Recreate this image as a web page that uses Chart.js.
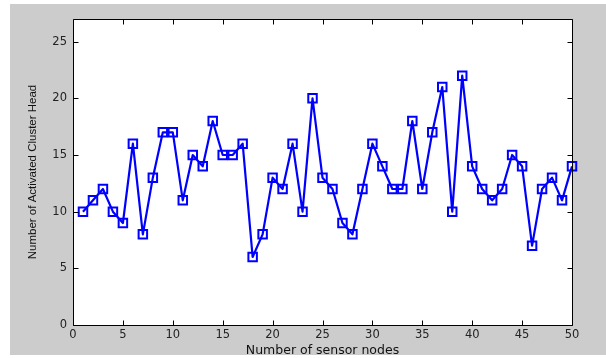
<!DOCTYPE html>
<html><head><meta charset="utf-8">
<script src="https://cdn.jsdelivr.net/npm/chart.js@4/dist/chart.umd.min.js"></script>
<style>html,body{margin:0;padding:0;background:#fff;} #wrap{position:relative;width:606px;height:358px;}</style>
</head><body><div id="wrap"><canvas id="c" width="606" height="358"></canvas></div>
<script>
const nodes = [1,2,3,4,5,6,7,8,9,10,11,12,13,14,15,16,17,18,19,20,21,22,23,24,25,26,27,28,29,30,31,32,33,34,35,36,37,38,39,40,41,42,43,44,45,46,47,48,49,50];
const activatedHeads = [10,11,12,10,9,16,8,13,17,17,11,15,14,18,15,15,16,6,8,13,12,16,10,20,13,12,9,8,12,16,14,12,12,18,12,17,21,10,22,14,12,11,12,15,14,7,12,13,11,14];
const xTicks = [0,5,10,15,20,25,30,35,40,45,50];
const yTicks = [0,5,10,15,20,25];
const xRange = [0,50];
const yRange = [0,27];
const xTitle = 'Number of sensor nodes';
const yTitle = 'Number of Activated Cluster Head';

const tickFont = {family:'DejaVu Sans', size:11.5};
const frame = {
  id:'frame',
  beforeDraw(chart){
    const {ctx, chartArea:a, width, height} = chart;
    ctx.save();
    ctx.fillStyle='#fff'; ctx.fillRect(0,0,width,height);
    ctx.fillStyle='#cccccc'; ctx.fillRect(10,4,width-10,351);
    ctx.fillStyle='#fff'; ctx.fillRect(a.left,a.top,a.right-a.left,a.bottom-a.top);
    ctx.restore();
  },
  afterDraw(chart){
    const {ctx, chartArea:a, scales} = chart;
    ctx.save();
    ctx.strokeStyle='#000'; ctx.lineWidth=1;
    const L=Math.round(a.left)+0.5, R=Math.round(a.right)+0.5, T=Math.round(a.top)+0.5, B=Math.round(a.bottom)+0.5;
    ctx.beginPath();
    ctx.rect(L,T,R-L,B-T);
    const len=5;
    xTicks.forEach(v=>{
      const x=Math.round(scales.x.getPixelForValue(v))+0.5;
      ctx.moveTo(x,B); ctx.lineTo(x,B-len);
      ctx.moveTo(x,T); ctx.lineTo(x,T+len);
    });
    yTicks.forEach(v=>{
      const y=Math.round(scales.y.getPixelForValue(v))+0.5;
      ctx.moveTo(L,y); ctx.lineTo(L+len,y);
      ctx.moveTo(R,y); ctx.lineTo(R-len,y);
    });
    ctx.stroke();
    ctx.restore();
  }
};

new Chart(document.getElementById('c'), {
  type:'line',
  data:{
    labels: nodes,
    datasets:[{
      data: nodes.map((n,i)=>({x:n, y:activatedHeads[i]})),
      borderColor:'#0000ff',
      borderWidth:2.2,
      borderJoinStyle:'round',
      tension:0,
      pointStyle:'rect',
      pointRadius:6,
      pointBorderWidth:2,
      pointBorderColor:'#0000ff',
      pointBackgroundColor:'rgba(0,0,0,0)',
      clip:false
    }]
  },
  options:{
    responsive:false,
    devicePixelRatio:1,
    animation:false,
    events:[],
    layout:{padding:{left:0,right:34,top:19,bottom:0}},
    plugins:{legend:{display:false}, tooltip:{enabled:false}},
    scales:{
      x:{
        type:'linear', position:'bottom', min:xRange[0], max:xRange[1],
        afterBuildTicks:s=>{s.ticks = xTicks.map(v=>({value:v}));},
        afterFit:s=>{s.height=33;},
        grid:{display:false, drawTicks:false},
        border:{display:false},
        ticks:{font:tickFont, color:'#222', padding:3, maxRotation:0, autoSkip:false},
        title:{display:true, text:xTitle, font:{family:'DejaVu Sans', size:12.5}, color:'#111', padding:{top:0,bottom:0}}
      },
      y:{
        type:'linear', min:yRange[0], max:yRange[1],
        afterBuildTicks:s=>{s.ticks = yTicks.map(v=>({value:v}));},
        afterFit:s=>{s.width=73;},
        grid:{display:false, drawTicks:false},
        border:{display:false},
        ticks:{font:tickFont, color:'#222', padding:6, autoSkip:false},
        title:{display:true, text:yTitle, font:{family:'Liberation Sans', size:11.5}, color:'#111', padding:{top:26,bottom:0}}
      }
    }
  },
  plugins:[frame]
});
</script></body></html>
